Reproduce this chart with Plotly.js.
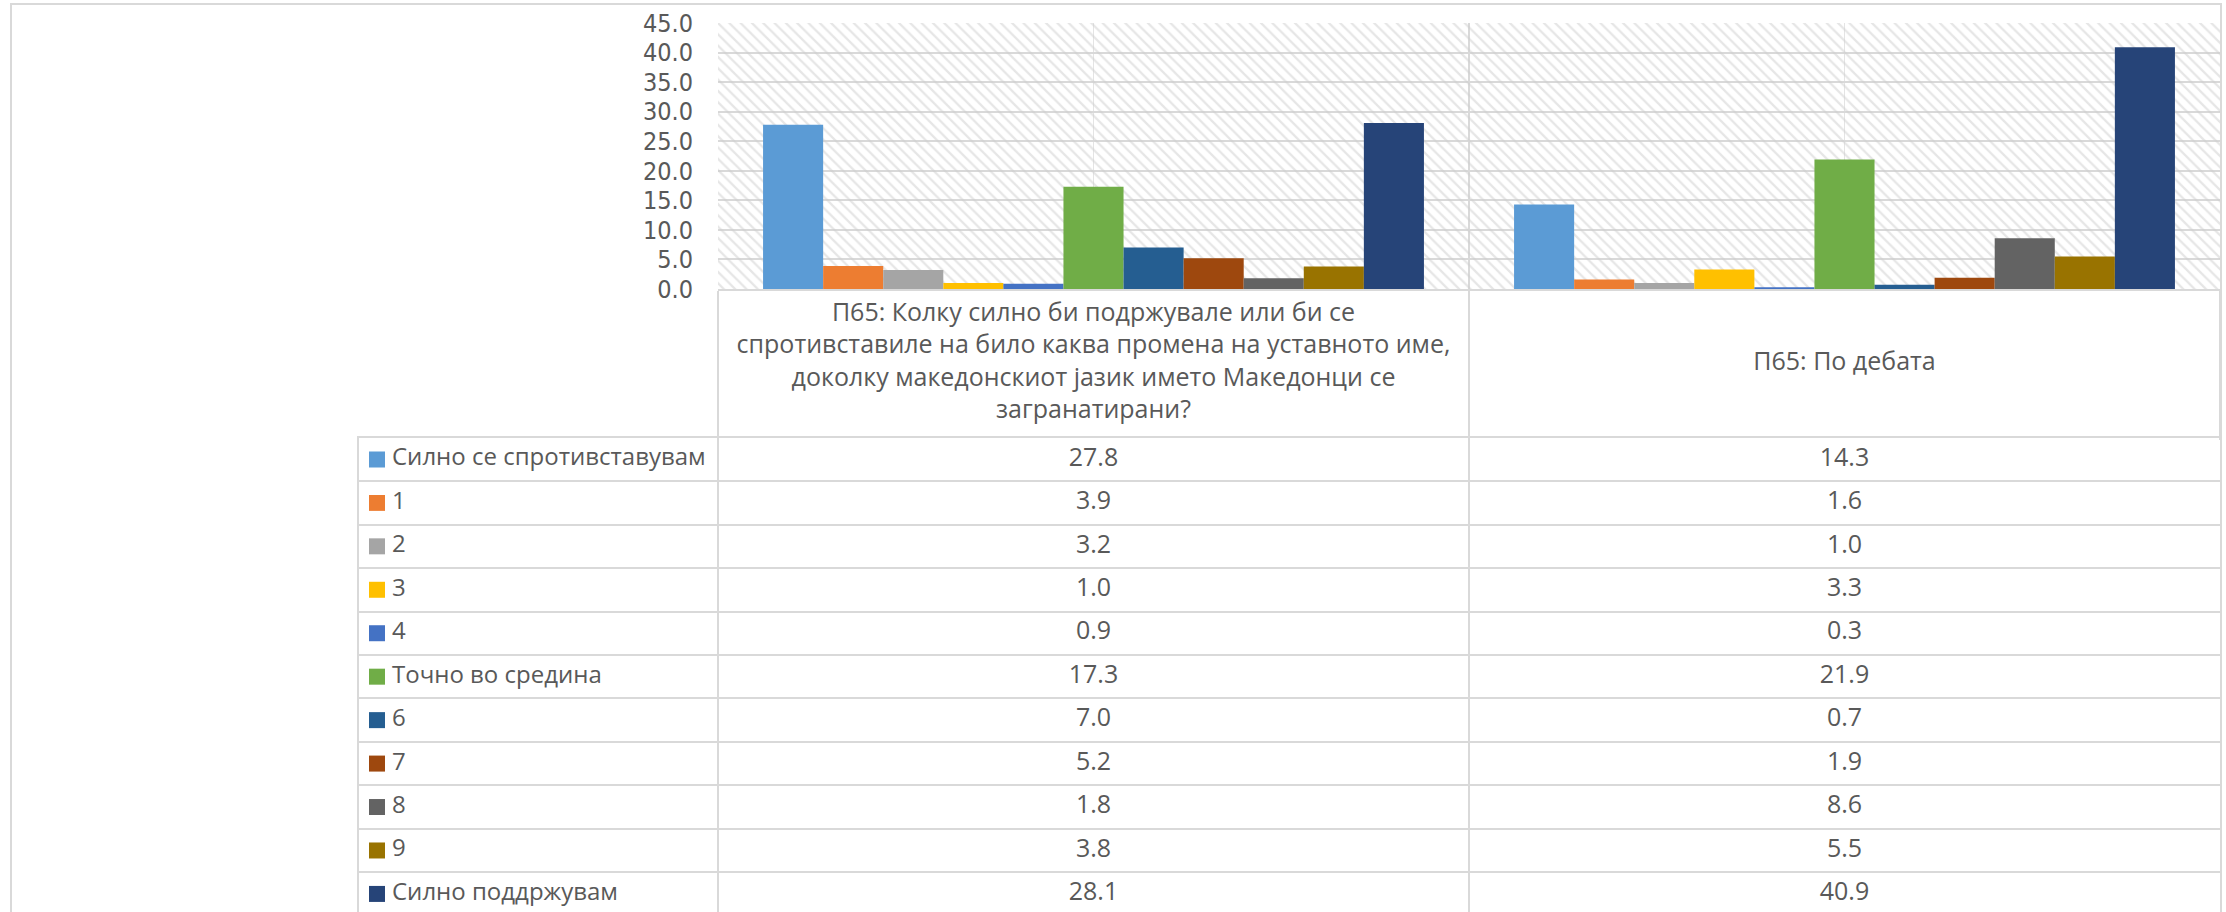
<!DOCTYPE html>
<html><head><meta charset="utf-8">
<script src="https://cdn.plot.ly/plotly-3.0.1.min.js"></script>
<style>html,body{margin:0;padding:0;background:#fff;} #chart{width:2226px;height:912px;}</style>
</head><body><div id="chart"></div>
<script>
// ---------- data ----------
const categories = [
  "П65: Колку силно би подржувале или би се<br>спротивставиле на било каква промена на уставното име,<br>доколку македонскиот јазик името Македонци се<br>загранатирани?",
  "П65: По дебата"
];
const seriesNames = ["Силно се спротивставувам", "1", "2", "3", "4", "Точно во средина", "6", "7", "8", "9", "Силно поддржувам"];
const valuesQ1 = [27.8, 3.9, 3.2, 1.0, 0.9, 17.3, 7.0, 5.2, 1.8, 3.8, 28.1];
const valuesQ2 = [14.3, 1.6, 1.0, 3.3, 0.3, 21.9, 0.7, 1.9, 8.6, 5.5, 40.9];
const seriesColors = ["#5B9BD5", "#ED7D31", "#A5A5A5", "#FFC000", "#4472C4", "#70AD47", "#255E91", "#9E480E", "#636363", "#997300", "#264478"];
const yTickVals = [0, 5, 10, 15, 20, 25, 30, 35, 40, 45];

// ---------- layout geometry (pixels) ----------
const W = 2226, H = 912;
const PLOT_L = 718, PLOT_R = 2220, PLOT_T = 23, PLOT_B = 289;
const HEAD_B = 437.7, ROW_H = 43.45, TABLE_L = 359;
const BORDER_L = 11, BORDER_T = 4, BORDER_R = 2221;
const fx = p => p / W, fy = p => 1 - p / H;

const FONT = "Open Sans, Noto Sans, sans-serif";
const TICK_FONT = "DejaVu Sans Condensed, Open Sans, sans-serif";
const TXT = "#595959", GRID = "#D9D9D9";

const catIdx = categories.map((c, i) => i);
const xRange = [-0.5, categories.length - 0.5];
const colW = (PLOT_R - PLOT_L) / categories.length;   // px per category
const u = p => xRange[0] + (p - PLOT_L) / colW;      // table px -> x units
const rowIdx = seriesNames.map((s, i) => i);

const traces = [];
// hatched plot-area background
traces.push({
  type: "bar", xaxis: "x", yaxis: "y",
  x: [(xRange[0] + xRange[1]) / 2], y: [yTickVals[yTickVals.length - 1]],
  width: [xRange[1] - xRange[0]],
  marker: { color: "rgba(0,0,0,0)", line: { width: 0 },
    pattern: { shape: "\\", fgcolor: "#CDCDCD", bgcolor: "rgba(0,0,0,0)", size: 8, solidity: 0.28, fillmode: "overlay" } },
  hoverinfo: "skip", showlegend: false
});
// data bars
seriesNames.forEach((name, i) => {
  traces.push({
    type: "bar", xaxis: "x2", yaxis: "y2", name: name,
    x: catIdx, y: [valuesQ1[i], valuesQ2[i]],
    marker: { color: seriesColors[i], line: { width: 0 } }
  });
});
// header: category labels
traces.push({
  type: "scatter", mode: "text", xaxis: "x4", yaxis: "y4",
  x: catIdx, y: catIdx.map(() => 0.5), text: categories,
  textposition: "middle center",
  textfont: { family: FONT, size: 25, color: TXT }, hoverinfo: "skip"
});
// table: legend keys
traces.push({
  type: "scatter", mode: "markers", xaxis: "x3", yaxis: "y3",
  x: rowIdx.map(() => u(377)), y: rowIdx,
  marker: { symbol: "square", size: 16, color: seriesColors, line: { width: 0 } }, hoverinfo: "skip"
});
traces.push({
  type: "scatter", mode: "text", xaxis: "x3", yaxis: "y3",
  x: rowIdx.map(() => u(392)), y: rowIdx, text: seriesNames,
  textposition: "middle right",
  textfont: { family: FONT, size: 24, color: TXT }, hoverinfo: "skip"
});
[valuesQ1, valuesQ2].forEach((vals, c) => {
  traces.push({
    type: "scatter", mode: "text", xaxis: "x3", yaxis: "y3",
    x: rowIdx.map(() => catIdx[c]), y: rowIdx, text: vals.map(v => v.toFixed(1)),
    textposition: "middle center",
    textfont: { family: FONT, size: 25, color: TXT }, hoverinfo: "skip"
  });
});

const plotDomX = [fx(PLOT_L), fx(PLOT_R)];
const layout = {
  width: W, height: H, margin: { l: 0, r: 0, t: 0, b: 0 },
  paper_bgcolor: "#ffffff", plot_bgcolor: "rgba(0,0,0,0)",
  font: { family: FONT, color: TXT },
  showlegend: false,
  barmode: "group", bargap: 0.12, bargroupgap: 0,
  xaxis: {
    domain: plotDomX, range: xRange, anchor: "y",
    tickmode: "array", tickvals: [-0.5, 0.5, 1.5], showticklabels: false,
    ticks: "outside", ticklen: HEAD_B - PLOT_B, tickwidth: 2, tickcolor: GRID,
    showgrid: true, gridcolor: GRID, gridwidth: 1.5,
    minor: { tickmode: "array", tickvals: catIdx, showgrid: true, gridcolor: "#E4E4E4", gridwidth: 1.5, ticks: "" },
    showline: true, linecolor: GRID, linewidth: 2, zeroline: false, fixedrange: true
  },
  yaxis: {
    domain: [fy(PLOT_B), fy(PLOT_T)], range: [0, 45], anchor: "x",
    tickmode: "array", tickvals: yTickVals, tickformat: ".1f",
    ticks: "outside", ticklen: 19, tickcolor: "rgba(0,0,0,0)",
    tickfont: { family: TICK_FONT, size: 25, color: TXT },
    showgrid: true, gridcolor: GRID, gridwidth: 2, zeroline: false, showline: false, fixedrange: true
  },
  xaxis2: { overlaying: "x", range: xRange, anchor: "y2", visible: false, fixedrange: true },
  yaxis2: { overlaying: "y", range: [0, 45], anchor: "x2", visible: false, fixedrange: true },
  xaxis4: { domain: plotDomX, range: xRange, anchor: "y4", visible: false, fixedrange: true },
  yaxis4: { domain: [fy(HEAD_B), fy(PLOT_B)], range: [0, 1], anchor: "x4", visible: false, fixedrange: true },
  xaxis3: {
    domain: [fx(TABLE_L), fx(PLOT_R)], range: [u(TABLE_L), xRange[1]], anchor: "y3",
    tickmode: "array", tickvals: [-0.5, 0.5], showticklabels: false, ticks: "",
    showgrid: true, gridcolor: GRID, gridwidth: 2, zeroline: false,
    showline: true, side: "top", linecolor: GRID, linewidth: 2, fixedrange: true
  },
  yaxis3: {
    domain: [0, fy(HEAD_B)], range: [-0.5 + (H - HEAD_B) / ROW_H, -0.5], anchor: "x3",
    tickmode: "array", tickvals: rowIdx.slice(0, -1).map(i => i + 0.5), showticklabels: false, ticks: "",
    showgrid: true, gridcolor: GRID, gridwidth: 2, zeroline: false,
    showline: true, mirror: true, linecolor: GRID, linewidth: 2, fixedrange: true
  },
  shapes: [{
    type: "rect", xref: "paper", yref: "paper",
    x0: fx(BORDER_L), x1: fx(BORDER_R), y0: -0.05, y1: fy(BORDER_T),
    line: { color: GRID, width: 2 }, fillcolor: "rgba(0,0,0,0)", layer: "below"
  }]
};

Plotly.newPlot("chart", traces, layout, { displayModeBar: false, staticPlot: true });
</script>
</body></html>
